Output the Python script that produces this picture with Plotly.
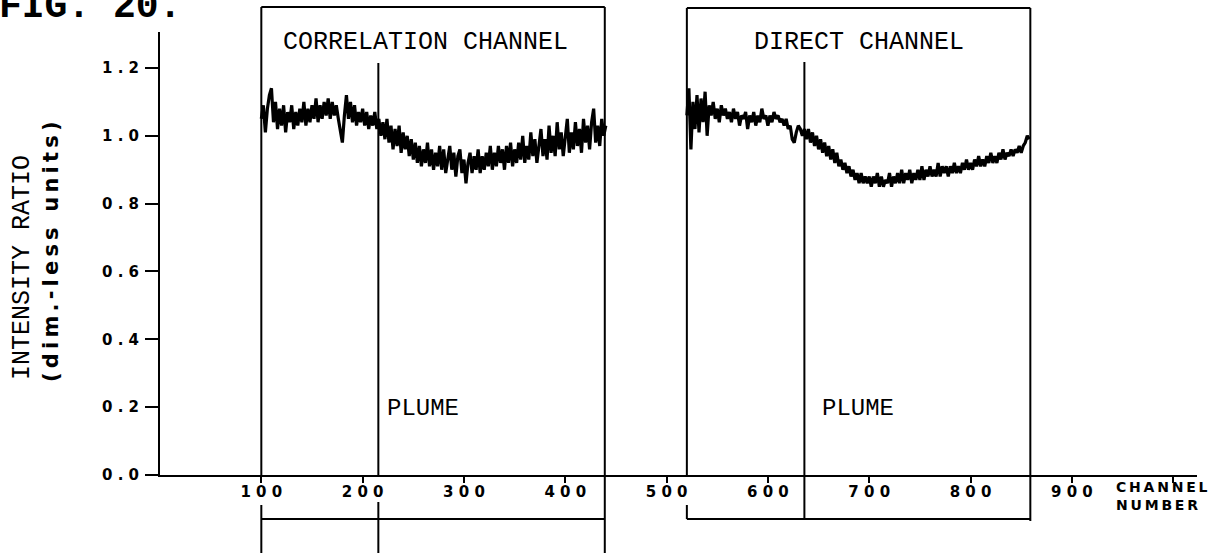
import plotly.graph_objects as go

# ---- data -------------------------------------------------------------
# Intensity ratio, correlation channel (channels 100..440, every 2nd channel)
corr_channels = list(range(100, 441, 2))
corr_ratio = [
    1.05, 1.09, 1.01, 1.08, 1.12, 1.14, 1.04, 1.10, 1.02, 1.08,
    1.03, 1.09, 1.01, 1.07, 1.04, 1.09, 1.02, 1.07, 1.03, 1.08,
    1.04, 1.10, 1.03, 1.08, 1.04, 1.09, 1.05, 1.11, 1.04, 1.09,
    1.05, 1.10, 1.06, 1.11, 1.05, 1.10, 1.06, 1.09, 1.05, 1.02,
    0.98, 1.06, 1.12, 1.05, 1.10, 1.04, 1.09, 1.03, 1.07, 1.04,
    1.08, 1.03, 1.07, 1.02, 1.06, 1.03, 1.07, 1.02, 1.05, 1.00,
    1.04, 0.99, 1.05, 0.98, 1.03, 0.96, 1.02, 0.97, 1.03, 0.95,
    1.01, 0.96, 1.00, 0.94, 0.99, 0.93, 0.98, 0.92, 0.97, 0.91,
    0.96, 0.92, 0.98, 0.91, 0.96, 0.90, 0.95, 0.91, 0.97, 0.90,
    0.96, 0.89, 0.94, 0.97, 0.90, 0.95, 0.88, 0.94, 0.96, 0.89,
    0.93, 0.86, 0.92, 0.95, 0.89, 0.94, 0.90, 0.96, 0.89, 0.94,
    0.90, 0.95, 0.91, 0.97, 0.90, 0.95, 0.91, 0.97, 0.92, 0.96,
    0.90, 0.97, 0.92, 0.98, 0.91, 0.96, 0.92, 0.98, 0.93, 1.00,
    0.92, 0.97, 0.93, 1.01, 0.94, 0.99, 0.92, 0.98, 1.02, 0.94,
    0.99, 0.93, 1.03, 0.95, 1.00, 0.94, 1.04, 0.96, 1.01, 0.94,
    1.00, 1.05, 0.95, 1.01, 0.96, 1.04, 0.97, 1.02, 0.95, 1.05,
    0.98, 1.03, 0.96, 1.04, 1.08, 0.98, 1.03, 0.97, 1.05, 1.00,
    1.03,
]

# Intensity ratio, direct channel (channels 520..858, every 2nd channel)
direct_channels = list(range(520, 859, 2))
direct_ratio = [
    1.06, 1.14, 0.96, 1.10, 1.02, 1.12, 1.01, 1.11, 1.04, 1.13,
    1.00, 1.09, 1.06, 1.10, 1.05, 1.08, 1.04, 1.09, 1.06, 1.08,
    1.05, 1.07, 1.04, 1.08, 1.05, 1.07, 1.03, 1.06, 1.05, 1.07,
    1.02, 1.06, 1.04, 1.07, 1.03, 1.06, 1.04, 1.08, 1.05, 1.06,
    1.03, 1.06, 1.04, 1.07, 1.05, 1.06, 1.04, 1.05, 1.03, 1.05,
    1.02, 1.03, 0.99, 0.98, 1.01, 1.03, 1.02, 1.00, 1.02, 0.99,
    1.02, 0.98, 1.01, 0.97, 1.00, 0.96, 0.99, 0.95, 0.98, 0.94,
    0.97, 0.93, 0.96, 0.92, 0.95, 0.91, 0.93, 0.90, 0.92, 0.89,
    0.91, 0.88, 0.90, 0.87, 0.89, 0.86, 0.89, 0.86, 0.88, 0.86,
    0.88, 0.85, 0.88, 0.86, 0.89, 0.85, 0.88, 0.85, 0.87, 0.86,
    0.89, 0.85, 0.88, 0.86, 0.89, 0.86, 0.90, 0.86, 0.89, 0.87,
    0.90, 0.86, 0.89, 0.87, 0.90, 0.87, 0.91, 0.87, 0.90, 0.88,
    0.91, 0.88, 0.90, 0.88, 0.92, 0.88, 0.91, 0.89, 0.91, 0.88,
    0.91, 0.89, 0.92, 0.89, 0.91, 0.89, 0.92, 0.90, 0.93, 0.90,
    0.92, 0.90, 0.93, 0.91, 0.94, 0.91, 0.93, 0.91, 0.94, 0.92,
    0.95, 0.92, 0.94, 0.92, 0.95, 0.93, 0.96, 0.93, 0.95, 0.94,
    0.96, 0.94, 0.96, 0.95, 0.97, 0.95, 0.97, 0.98, 1.00, 0.99,
]

# window boundaries (channel numbers)
corr_window = (100, 215.5, 439)     # start, plume onset, end
direct_window = (520, 636, 859)

y_ticks = [0.0, 0.2, 0.4, 0.6, 0.8, 1.0, 1.2]
y_tick_text = ["0.0", "0.2", "0.4", "0.6", "0.8", "1.0", "1.2"]
x_ticks = [100, 200, 300, 400, 500, 600, 700, 800, 900, 1000]
x_tick_text = ["100", "200", "300", "400", "500", "600", "700", "800", "900", ""]

# ---- styling ------------------------------------------------------------
W, H = 1220, 553
M_L, M_R, M_T, M_B = 160, 23, 32, 78
X_RANGE = (0, 1023.5)
Y_RANGE = (0, 1.306)
INK = "black"
PLOT_FONT = "DejaVu Sans"        # bold, wide plotter lettering
TYPE_FONT = "Liberation Mono"     # typed labels
THIN = "\u2009"


def spaced(s, sep=" "):
    return sep.join(s)


def py(pix):
    """pixel row -> paper fraction"""
    return (H - M_B - pix) / (H - M_T - M_B)


def px(pix):
    return (pix - M_L) / (W - M_L - M_R)


fig = go.Figure()

for xs, ys in ((corr_channels, corr_ratio), (direct_channels, direct_ratio)):
    fig.add_trace(go.Scatter(
        x=xs, y=ys, mode="lines",
        line=dict(color=INK, width=3.2),
        hoverinfo="skip", showlegend=False,
    ))

shapes = []


def seg(x0, x1, p0, p1, w=2):
    shapes.append(dict(type="line", xref="x", yref="paper",
                       x0=x0, x1=x1, y0=py(p0), y1=py(p1),
                       line=dict(color=INK, width=w)))


# correlation channel window
a, b, c = corr_window
seg(a, c, 7, 7)
seg(a, a, 7, 475)
seg(c, c, 7, 553)
seg(b, b, 63, 475)
seg(a, c, 519, 519)
seg(a, a, 505, 553)
seg(b, b, 502, 553)

# direct channel window
a, b, c = direct_window
seg(a, c, 8, 8)
seg(a, a, 8, 475)
seg(c, c, 8, 521)
seg(b, b, 62, 519)
seg(a, c, 519, 519)
seg(a, a, 505, 519)

bold_plot = dict(family=PLOT_FONT, color=INK, weight="bold")

annotations = [
    dict(text="CORRELATION CHANNEL", x=262, y=1.2736, xref="x", yref="y",
         xanchor="center", yanchor="middle", showarrow=False,
         font=dict(family=TYPE_FONT, size=25, color=INK)),
    dict(text="DIRECT CHANNEL", x=690, y=1.2736, xref="x", yref="y",
         xanchor="center", yanchor="middle", showarrow=False,
         font=dict(family=TYPE_FONT, size=25, color=INK)),
    dict(text="PLUME", x=260, y=0.1975, xref="x", yref="y",
         xanchor="center", yanchor="middle", showarrow=False,
         font=dict(family=TYPE_FONT, size=24, color=INK)),
    dict(text="PLUME", x=689, y=0.1975, xref="x", yref="y",
         xanchor="center", yanchor="middle", showarrow=False,
         font=dict(family=TYPE_FONT, size=24, color=INK)),
    dict(text="INTENSITY RATIO", x=px(22), y=py(268), xref="paper", yref="paper",
         xanchor="center", yanchor="middle", textangle=-90, showarrow=False,
         font=dict(family=TYPE_FONT, size=25, color=INK)),
    dict(text=spaced("(dim.-less units)", THIN), x=px(51), y=py(252),
         xref="paper", yref="paper", xanchor="center", yanchor="middle",
         textangle=-90, showarrow=False, font=dict(size=21, **bold_plot)),
    dict(text=spaced("CHANNEL", THIN) + "<br>" + spaced("NUMBER", THIN),
         x=px(1114), y=py(496), xref="paper", yref="paper",
         xanchor="left", yanchor="middle", align="left", showarrow=False,
         font=dict(size=14, **bold_plot)),
    dict(text="FIG. 20.", x=px(-3), y=py(6.5), xref="paper", yref="paper",
         xanchor="left", yanchor="middle", showarrow=False,
         font=dict(family=TYPE_FONT, size=38, color=INK, weight="bold")),
]

fig.update_layout(
    width=W, height=H, autosize=False,
    margin=dict(l=M_L, r=M_R, t=M_T, b=M_B, pad=0),
    paper_bgcolor="white", plot_bgcolor="white",
    shapes=shapes, annotations=annotations, showlegend=False,
    xaxis=dict(
        range=list(X_RANGE), showgrid=False, zeroline=False,
        showline=True, linecolor=INK, linewidth=2,
        ticks="outside", ticklen=6, tickwidth=2, tickcolor=INK,
        tickvals=x_ticks, ticktext=[spaced(t) for t in x_tick_text],
        tickfont=dict(size=15, **bold_plot),
        ticklabelstandoff=-4,
    ),
    yaxis=dict(
        range=list(Y_RANGE), showgrid=False, zeroline=False,
        showline=True, linecolor=INK, linewidth=2,
        ticks="outside", ticklen=13, tickwidth=2, tickcolor=INK,
        tickvals=y_ticks, ticktext=[spaced(t) for t in y_tick_text],
        tickfont=dict(size=15, **bold_plot),
        ticklabelstandoff=3,
    ),
)

fig.write_html("out.html")
